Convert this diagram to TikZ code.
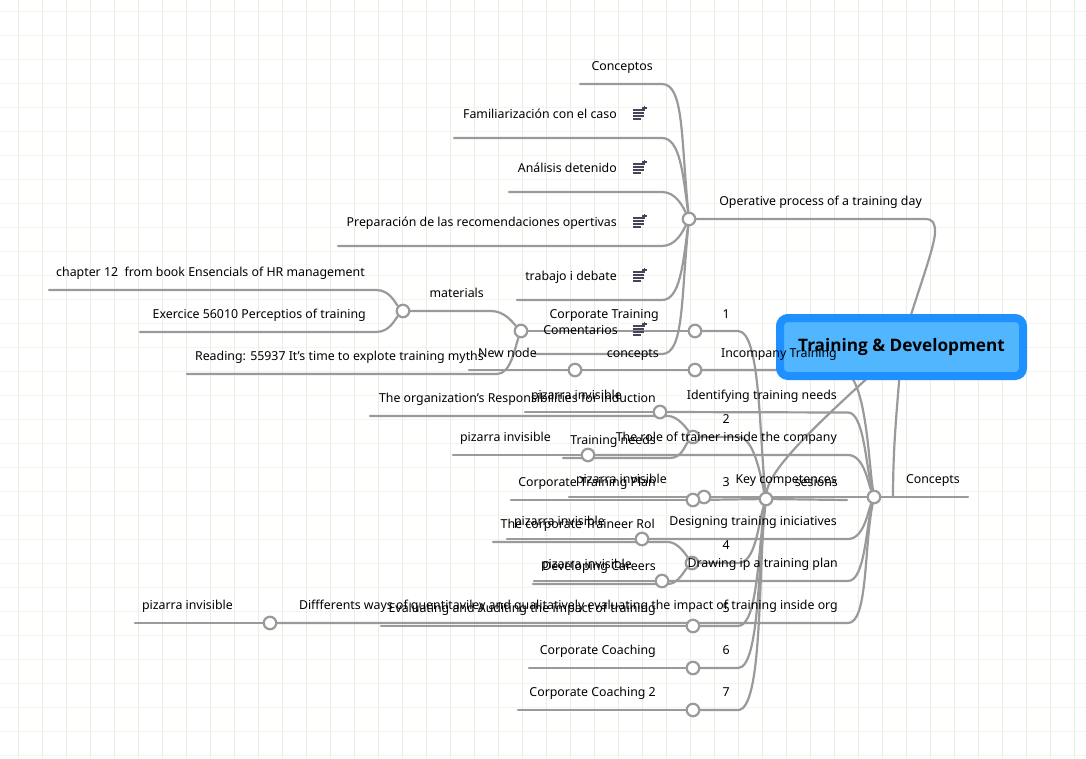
\documentclass[tikz,border=0pt]{standalone}
\usepackage{fontspec}
\setmainfont{Noto Sans}
\newfontfamily\titlefont{Open Sans}
\pgfdeclarelayer{gridlayer}
\pgfdeclarelayer{linelayer}
\pgfsetlayers{gridlayer,linelayer,main}
\definecolor{conncol}{HTML}{9A9A9A}
\definecolor{gridv}{HTML}{E9EFDF}
\definecolor{gridh}{HTML}{F3F6EE}
\definecolor{boxout}{HTML}{1E90FF}
\definecolor{boxin}{HTML}{52B6FF}
\definecolor{iconcol}{HTML}{44445A}
\tikzset{
 conn/.style={draw=conncol,line width=2.2pt,line cap=round},
 hub/.style={circle,draw=conncol,line width=2.2pt,fill=white,minimum size=12.5pt,inner sep=0pt},
 lab/.style={font=\fontsize{12.35}{14}\selectfont,inner sep=0pt,text=black,anchor=base east},
 noteicon/.pic={
  \draw[iconcol,line width=1.6pt] (-7,-3.5)--(4,-3.5) (-7,-0.5)--(4,-0.5) (-7,2.5)--(4,2.5);
  \draw[iconcol,line width=1.6pt] (-7,5.5)--(1,5.5);
  \draw[iconcol,line width=1.4pt] (2,-5.5)--(7,-5.5) (4.5,-8)--(4.5,-3);
 }
}
\newcommand\lab[4]{\node[lab] (#1) at (#2,#3+5.2) {#4};}
\newcommand\cc[3]{\coordinate (#1) at (#2,#3);}
\begin{document}
\begin{tikzpicture}[x=1pt,y=-1pt]
\useasboundingbox (0,0) rectangle (1086,758);
\begin{pgfonlayer}{gridlayer}
\fill[white] (0,0) rectangle (1086,758);
\foreach \k in {0,...,44} \draw[gridh,line width=1pt] (0,11.3+24*\k) -- (1086,11.3+24*\k);
\foreach \k in {0,...,44} \draw[gridv,line width=1pt] (18.4+24*\k,0) -- (18.4+24*\k,758);
\end{pgfonlayer}

% central topic
\node[draw=boxout,line width=8pt,fill=boxin,rounded corners=8pt,minimum width=243pt,minimum height=58pt,inner sep=0pt] (root) at (901.5,347) {};

% hubs
\node[hub] (hOp) at (689,219) {};
\node[hub] (hConc) at (874,497) {};
\node[hub] (hKey) at (766,499) {};
\node[hub] (hMat) at (403,311) {};
\node[hub] (hCT) at (521,331) {};
\node[hub] (h1) at (695,331) {};
\node[hub] (hNew) at (575,370) {};
\node[hub] (hInc) at (695,370) {};
\node[hub] (hPiz1) at (660,412) {};
\node[hub] (h2) at (693,437) {};
\node[hub] (hPiz2) at (588,455) {};
\node[hub] (hPiz3) at (704,497) {};
\node[hub] (h3) at (693,500) {};
\node[hub] (hPiz4) at (642,539) {};
\node[hub] (h4) at (692,563) {};
\node[hub] (hPiz5) at (662,581) {};
\node[hub] (hPiz6) at (270,623) {};
\node[hub] (h5) at (693,626) {};
\node[hub] (h6) at (693,668) {};
\node[hub] (h7) at (693,710) {};

% free ends and bends
\cc{a1}{580}{84}\cc{a1c}{662}{84}
\cc{a2}{454}{138}\cc{a2c}{662}{138}
\cc{a3}{509}{192}\cc{a3c}{662}{192}
\cc{a4}{338}{246}\cc{a4c}{662}{246}
\cc{a5}{517}{300}\cc{a5c}{662}{300}
\cc{a6}{534}{354}\cc{a6c}{662}{354}
\cc{m1}{49}{290}\cc{m1c}{376}{290}
\cc{m2}{140}{332}\cc{m2c}{376}{332}
\cc{m3}{187}{374}\cc{m3c}{497}{374}
\cc{m4c}{491}{311}
\cc{hOpc}{925}{219}\cc{hOpd}{935}{232}
\cc{newend}{469}{370}
\cc{conend}{968}{497}
\cc{seend}{847}{500}
\cc{rootfoot}{893}{497}
\cc{c1}{840}{370}\cc{c2}{848}{412.5}\cc{c3}{848}{455}\cc{c4}{848}{539}\cc{c5}{848}{581}\cc{c6}{848}{623}
\cc{p1}{525}{412}\cc{o1}{370}{416}\cc{o1c}{668}{416}
\cc{p2}{453}{455}\cc{t1}{563}{458}\cc{t1c}{670}{458}
\cc{p3}{569}{497}\cc{cp}{511}{500}
\cc{p4}{507}{539}\cc{r1}{493}{542}\cc{r1c}{668}{542}
\cc{p5}{534}{581}\cc{d1}{533}{584}\cc{d1c}{668}{584}
\cc{p6}{135}{623}\cc{e1}{381}{626}
\cc{cc1}{529}{668}\cc{cc2}{518}{710}
\cc{k1}{738}{331}\cc{k2}{738}{437}\cc{k4}{738}{563}\cc{k5}{738}{626}\cc{k6}{738}{668}\cc{k7}{738}{710}

\begin{pgfonlayer}{linelayer}
% operative branch
\draw[conn] (a1) -- (a1c) .. controls +(22,0) and +(-8,-80) .. (hOp);
\draw[conn] (a2) -- (a2c) .. controls +(18,0) and +(-6,-45) .. (hOp);
\draw[conn] (a3) -- (a3c) .. controls +(14,0) and +(-6,-12) .. (hOp);
\draw[conn] (a4) -- (a4c) .. controls +(14,0) and +(-6,12) .. (hOp);
\draw[conn] (a5) -- (a5c) .. controls +(18,0) and +(-6,45) .. (hOp);
\draw[conn] (a6) -- (a6c) .. controls +(22,0) and +(-8,80) .. (hOp);
\draw[conn] (hOp) -- (hOpc) .. controls +(8,0) and +(0,-9) .. (hOpd) .. controls +(0,16) and +(12,-45) .. (root.center);
% materials
\draw[conn] (m1) -- (m1c) .. controls +(14,0) and +(-8,-8) .. (hMat);
\draw[conn] (m2) -- (m2c) .. controls +(14,0) and +(-8,8) .. (hMat);
\draw[conn] (hMat) -- (m4c) .. controls +(14,0) and +(-8,-8) .. (hCT);
\draw[conn] (m3) -- (m3c) .. controls +(14,0) and +(-6,16) .. (hCT);
\draw[conn] (hCT) -- (h1);
\draw[conn] (h1) -- (k1) .. controls +(22,0) and +(-7,-70) .. (hKey);
% concepts row
\draw[conn] (newend) -- (hNew);
\draw[conn] (hNew) -- (hInc);
\draw[conn] (hInc) -- (c1) .. controls +(26,0) and +(-6,-40) .. (hConc);
% concept hub children
\draw[conn] (p1) -- (hPiz1);
\draw[conn] (hPiz1) -- (c2) .. controls +(16,0) and +(-8,-30) .. (hConc);
\draw[conn] (p2) -- (hPiz2);
\draw[conn] (hPiz2) -- (c3) .. controls +(16,0) and +(-6,-14) .. (hConc);
\draw[conn] (p3) -- (hPiz3);
\draw[conn] (hPiz3) -- (hConc);
\draw[conn] (p4) -- (hPiz4);
\draw[conn] (hPiz4) -- (c4) .. controls +(16,0) and +(-6,14) .. (hConc);
\draw[conn] (p5) -- (hPiz5);
\draw[conn] (hPiz5) -- (c5) .. controls +(17,0) and +(-8,30) .. (hConc);
\draw[conn] (p6) -- (hPiz6);
\draw[conn] (hPiz6) -- (c6) .. controls +(20,0) and +(-10,50) .. (hConc);
\draw[conn] (hConc) -- (conend);
\draw[conn] (root.center) .. controls +(-3,50) and +(0,-60) .. (rootfoot);
% competences children
\draw[conn] (o1) -- (o1c) .. controls +(10,0) and +(-6,-8) .. (h2);
\draw[conn] (t1) -- (t1c) .. controls +(12,0) and +(-8,8) .. (h2);
\draw[conn] (h2) -- (k2) .. controls +(16,0) and +(-6,-25) .. (hKey);
\draw[conn] (cp) -- (h3);
\draw[conn] (h3) -- (hKey);
\draw[conn] (hKey) -- (seend);
\draw[conn] (r1) -- (r1c) .. controls +(10,0) and +(-6,-8) .. (h4);
\draw[conn] (d1) -- (d1c) .. controls +(10,0) and +(-8,8) .. (h4);
\draw[conn] (h4) -- (k4) .. controls +(18,0) and +(-8,25) .. (hKey);
\draw[conn] (e1) -- (h5);
\draw[conn] (h5) -- (k5) .. controls +(20,0) and +(-8,50) .. (hKey);
\draw[conn] (cc1) -- (h6);
\draw[conn] (h6) -- (k6) .. controls +(22,0) and +(-8,60) .. (hKey);
\draw[conn] (cc2) -- (h7);
\draw[conn] (h7) -- (k7) .. controls +(25,0) and +(-8,70) .. (hKey);
\draw[conn] (hKey) .. controls +(4,-35) and +(-60,55) .. (root.center);
\end{pgfonlayer}

% note icons
\pic at (640,113.5) {noteicon};
\pic at (640,167.5) {noteicon};
\pic at (640,221.5) {noteicon};
\pic at (640,275.5) {noteicon};
\pic at (640,329.5) {noteicon};

% labels
\lab{l1}{653}{65}{Conceptos}
\lab{l2}{617}{113}{Familiarización con el caso}
\lab{l3}{617}{167}{Análisis detenido}
\lab{l4}{617}{221}{Preparación de las recomendaciones opertivas}
\lab{l5}{617}{275}{trabajo i debate}
\lab{l6}{618}{329}{Comentarios}
\lab{l7}{922}{200}{Operative process of a training day}
\lab{l8}{365}{271}{chapter 12\ \ from book Ensencials of HR management}
\lab{l9}{366}{313}{Exercice 56010 Perceptios of training}
\lab{l10}{484}{355}{Reading: 55937 It's time to explote training myths}
\lab{l11}{484}{292}{materials}
\lab{l12}{659}{313}{Corporate Training}
\lab{l13}{730}{313}{1}
\lab{l14}{537}{352}{New node}
\lab{l15}{659}{352}{concepts}
\lab{l16}{837}{352}{Incompany Training}
\lab{l17}{622}{394}{pizarra invisible}
\lab{l18}{656}{397}{The organization's Responsibilities for induction}
\lab{l19}{837}{394}{Identifying training needs}
\lab{l20}{730}{418}{2}
\lab{l21}{551}{436}{pizarra invisible}
\lab{l22}{656}{439}{Training needs}
\lab{l23}{837}{436}{The role of trainer inside the company}
\lab{l24}{667}{478}{pizarra invisible}
\lab{l25}{656}{481}{Corporate Training Plan}
\lab{l26}{730}{481}{3}
\lab{l27}{837}{478}{Key competences}
\lab{l28}{838}{481}{sesions}
\lab{l30}{605}{520}{pizarra invisible}
\lab{l31}{655}{523}{The corporate Traineer Rol}
\lab{l32}{837}{520}{Designing training iniciatives}
\lab{l33}{730}{544}{4}
\lab{l34}{632}{563}{pizarra invisible}
\lab{l35}{656}{565}{Developing Careers}
\lab{l36}{838}{562}{Drawing ip a training plan}
\lab{l37}{233}{604}{pizarra invisible}
\lab{l38}{838}{604}{Diffferents ways of quentitaviley and qualitatively evaluating the impact of training inside org}
\lab{l39}{656}{607}{Evaluating and Auditing the impact of training}
\lab{l40}{730}{607}{5}
\lab{l41}{656}{649}{Corporate Coaching}
\lab{l42}{730}{649}{6}
\lab{l43}{656}{691}{Corporate Coaching 2}
\lab{l44}{730}{691}{7}
\lab{l45}{960}{478}{Concepts}
\node[font=\titlefont\bfseries\fontsize{17.2}{22}\selectfont,inner sep=0pt,text=black] (title) at (901.5,347.5) {Training \& Development};
\end{tikzpicture}
\end{document}
